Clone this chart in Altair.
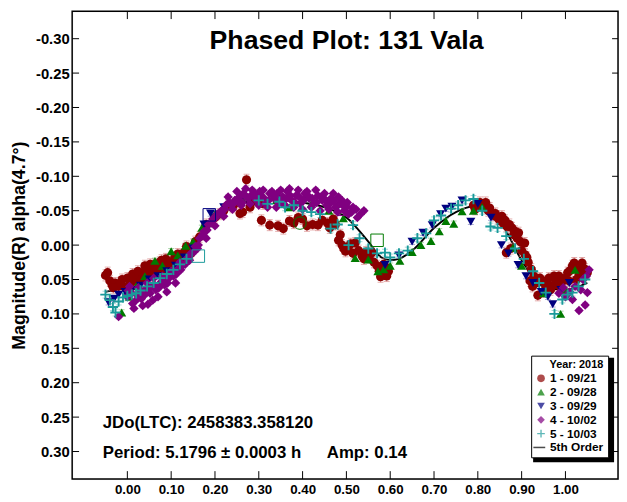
import altair as alt
import pandas as pd

# ---------------- data ----------------
sessions = ["1 - 09/21", "2 - 09/28", "3 - 09/29", "4 - 10/02", "5 - 10/03"]
colors = ["#8b0000", "#007a00", "#00007f", "#800080", "#1a9a9a"]
err_colors = ["#d88a8a", "#80c080", "#8080c0", "#c080c0", "#80c8c8"]
err_size = [0.008, 0.004, 0.004, 0.003, 0.005]

s1_phase = [-0.050, -0.040, -0.035, -0.028, -0.020, -0.012, -0.005, 0.000, 0.008, 0.012, 0.020, 0.028, 0.035,
            0.040, 0.048, 0.055, 0.062, 0.070, 0.078, 0.085, 0.092, 0.100, 0.108, 0.115, 0.122, 0.130, 0.140,
            0.200, 0.220, 0.240, 0.257, 0.263, 0.272, 0.280, 0.306, 0.325, 0.344, 0.356, 0.370, 0.390, 0.423,
            0.435, 0.457, 0.470, 0.482, 0.490, 0.498, 0.510, 0.520, 0.536, 0.545, 0.558, 0.570, 0.575, 0.581,
            0.588, 0.592, 0.596, 0.790, 0.797, 0.805, 0.813, 0.824, 0.830, 0.836, 0.845, 0.852, 0.858, 0.865,
            0.869, 0.878, 0.885, 0.890, 0.897, 0.907, 0.865, 0.875, 0.908, 0.915, 0.919, 0.928, 0.933, 0.937,
            0.948, 0.955, 0.962, 0.971, 0.978, 0.985, 0.995, 1.005, 1.011, 1.020, 1.031, 1.038, 1.045,
            -0.045, -0.032, -0.015, 0.004, 0.016, 0.024, 0.032, 0.044, 0.052, 0.058, 0.066, 0.074, 0.082,
            0.088, 0.096, 0.104, 0.112, 0.120, 0.128, 0.135, 0.145, 0.155, 0.165,
            0.180, 0.210, 0.230, 0.250, 0.290, 0.310,
            0.380, 0.400, 0.410, 0.445, 0.462, 0.475, 0.486, 0.494, 0.505, 0.515, 0.528, 0.540, 0.552,
            0.563, 0.578, 0.585, 0.590,
            0.794, 0.802, 0.818, 0.827, 0.840, 0.848, 0.855, 0.862, 0.872, 0.882, 0.893, 0.900, 0.912,
            0.922, 0.925, 0.942, 0.950, 0.958, 0.966, 0.974, 0.982, 0.990, 1.000, 1.008, 1.016, 1.025,
            1.034, 1.042, 1.050]
s1_mag = [0.044, 0.052, 0.058, 0.055, 0.060, 0.050, 0.062, 0.048, 0.055, 0.042, 0.050, 0.045, 0.040,
          0.030, 0.042, 0.035, 0.028, 0.036, 0.022, 0.030, 0.025, 0.030, 0.018, 0.013, 0.022, 0.010, 0.005,
          -0.040, -0.050, -0.055, -0.046, -0.048, -0.095, -0.055, -0.036, -0.029, -0.028, -0.024, -0.035, -0.040, -0.030,
          -0.029, -0.032, -0.038, -0.007, 0.000, 0.009, -0.002, -0.003, 0.016, 0.010, 0.011, 0.030, 0.038, 0.040,
          0.035, 0.045, 0.038, -0.058, -0.059, -0.062, -0.056, -0.050, -0.048, -0.043, -0.040, -0.035, -0.032, -0.028,
          -0.027, -0.025, -0.020, -0.010, -0.005, -0.003, 0.011, 0.005, 0.014, 0.025, 0.052, 0.045, 0.055, 0.073,
          0.052, 0.060, 0.048, 0.059, 0.050, 0.045, 0.052, 0.040, 0.037, 0.026, 0.043, 0.026, 0.035,
          0.040, 0.062, 0.055, 0.058, 0.046, 0.038, 0.050, 0.036, 0.028, 0.045, 0.032, 0.025, 0.040,
          0.020, 0.034, 0.024, 0.028, 0.015, 0.018, 0.002, 0.012, -0.005, -0.012,
          -0.030, -0.045, -0.058, -0.062, -0.065, -0.060,
          -0.032, -0.038, -0.028, -0.036, -0.025, -0.030, -0.015, 0.005, 0.002, 0.012, 0.008, 0.020, 0.018,
          0.025, 0.046, 0.028, 0.032,
          -0.052, -0.057, -0.062, -0.054, -0.046, -0.038, -0.042, -0.036, -0.030, -0.015, -0.018, 0.008, 0.018,
          0.035, 0.060, 0.048, 0.068, 0.055, 0.065, 0.045, 0.058, 0.062, 0.048, 0.052, 0.030, 0.050,
          0.034, 0.045, 0.040]

s2_phase = [-0.013, 0.005, 0.020, 0.040, 0.063, 0.080, 0.100, 0.115, 0.133, 0.150, 0.170, 0.200, 0.230, 0.260,
            0.288, 0.310, 0.340, 0.370, 0.420, 0.460, 0.493, 0.520, 0.550, 0.572, 0.585, 0.600, 0.622, 0.650,
            0.670, 0.693, 0.712, 0.727, 0.745, 0.764, 0.790, 0.810, 0.880, 0.900, 0.950, 0.989, 1.000, 1.022]
s2_mag = [0.098, 0.075, 0.060, 0.045, 0.023, 0.030, 0.009, 0.015, 0.001, -0.005, -0.025, -0.045, -0.062, -0.070,
          -0.077, -0.070, -0.065, -0.055, -0.060, -0.050, -0.039, 0.019, 0.021, 0.038, 0.035, 0.030, 0.023, 0.010,
          0.000, -0.006, -0.020, -0.035, -0.031, -0.049, -0.050, -0.055, 0.004, 0.030, 0.070, 0.100, 0.065, 0.036]

s3_phase = [-0.043, -0.030, -0.020, -0.005, 0.010, 0.030, 0.050, 0.070, 0.090, 0.110, 0.130, 0.150, 0.175,
            0.190, 0.220, 0.260, 0.300, 0.350, 0.400, 0.442, 0.480, 0.588, 0.620, 0.650, 0.675, 0.696, 0.715,
            0.727, 0.741, 0.764, 0.784, 0.800, 0.830, 0.854, 0.870, 0.892, 0.910, 0.926, 0.945, 0.960, 0.971,
            0.990, 1.009]
s3_mag = [0.083, 0.078, 0.072, 0.068, 0.065, 0.059, 0.050, 0.045, 0.038, 0.030, 0.018, 0.005, -0.030,
          -0.046, -0.055, -0.068, -0.070, -0.068, -0.065, -0.070, -0.055, 0.029, 0.015, -0.005, -0.018, -0.029, -0.045,
          -0.053, -0.056, -0.065, -0.034, -0.060, -0.040, 0.000, 0.012, 0.029, 0.045, 0.055, 0.068, 0.075, 0.086,
          0.065, 0.055]

s4_phase = [-0.020, 0.000, 0.010, 0.020, 0.030, 0.040, 0.047, 0.055, 0.065, 0.075, 0.085, 0.095, 0.105, 0.115,
            0.125, 0.135, 0.145, 0.155, 0.165, 0.175, 0.185, 0.195, 0.205, 0.215, 0.225, 0.235, 0.245,
            0.255, 0.265, 0.275, 0.285, 0.295, 0.305, 0.315, 0.325, 0.335, 0.345, 0.355, 0.365, 0.375,
            0.385, 0.395, 0.405, 0.415, 0.425, 0.435, 0.445, 0.455, 0.465, 0.475, 0.485, 0.495, 0.505,
            0.515, 0.525,
            0.005, 0.025, 0.045, 0.060, 0.080, 0.100, 0.120, 0.140, 0.160, 0.180, 0.200, 0.220, 0.240,
            0.260, 0.280, 0.300, 0.320, 0.340, 0.360, 0.380, 0.400, 0.420, 0.440, 0.460, 0.480, 0.500,
            0.230, 0.250, 0.270, 0.290, 0.310, 0.330, 0.350, 0.370, 0.390, 0.410, 0.430, 0.450, 0.470, 0.490,
            0.985, 0.995, 1.000, 1.010, 1.016, 1.022, 1.031, 1.035, 1.040, 1.045, 1.048, 1.050, 1.054,
            0.002, 0.012, 0.022, 0.032, 0.042, 0.052, 0.062, 0.072, 0.082, 0.092, 0.102, 0.112, 0.122,
            0.132, 0.142, 0.152, 0.162, 0.172, 0.182, 0.192, 0.202, 0.212, 0.222, 0.232, 0.242, 0.252,
            0.262, 0.272, 0.282, 0.292, 0.302, 0.312, 0.322, 0.332, 0.342, 0.352, 0.362, 0.372, 0.382,
            0.392, 0.402, 0.412, 0.422, 0.432, 0.442, 0.452, 0.462, 0.472, 0.482, 0.492, 0.502, 0.512,
            0.522, 0.532, 0.540,
            0.015, 0.035, 0.058, 0.070, 0.090, 0.110]
s4_mag = [0.104, 0.075, 0.070, 0.080, 0.068, 0.072, 0.086, 0.060, 0.065, 0.055, 0.058, 0.048, 0.045, 0.035,
          0.030, 0.020, 0.012, 0.002, -0.010, -0.020, -0.030, -0.038, -0.045, -0.050, -0.058, -0.060, -0.065,
          -0.070, -0.075, -0.068, -0.080, -0.065, -0.072, -0.060, -0.075, -0.068, -0.062, -0.070, -0.078, -0.065,
          -0.072, -0.060, -0.075, -0.068, -0.060, -0.072, -0.065, -0.058, -0.068, -0.055, -0.060, -0.050, -0.045,
          -0.055, -0.040,
          0.060, 0.062, 0.055, 0.048, 0.045, 0.038, 0.025, 0.018, 0.005, -0.010, -0.028, -0.042, -0.052,
          -0.058, -0.060, -0.058, -0.055, -0.055, -0.058, -0.055, -0.052, -0.055, -0.050, -0.052, -0.048, -0.055,
          -0.070, -0.078, -0.082, -0.075, -0.080, -0.078, -0.080, -0.082, -0.080, -0.078, -0.080, -0.075, -0.075, -0.065,
          0.070, 0.062, 0.075, 0.068, 0.079, 0.060, 0.095, 0.065, 0.050, 0.087, 0.045, 0.069, 0.036,
          0.066, 0.085, 0.072, 0.078, 0.064, 0.070, 0.058, 0.062, 0.052, 0.055, 0.040, 0.042, 0.036,
          0.028, 0.022, 0.010, 0.000, -0.015, -0.022, -0.032, -0.040, -0.048, -0.052, -0.062, -0.060, -0.065,
          -0.062, -0.070, -0.072, -0.068, -0.078, -0.068, -0.065, -0.072, -0.075, -0.062, -0.068, -0.072, -0.062,
          -0.070, -0.065, -0.072, -0.068, -0.062, -0.070, -0.066, -0.060, -0.064, -0.070, -0.058, -0.062, -0.048,
          -0.052, -0.045, -0.050,
          0.092, 0.088, 0.080, 0.075, 0.068, 0.055]

s5_phase = [-0.050, -0.040, -0.033, -0.027, -0.020, -0.010, 0.000, 0.010, 0.020, 0.030, 0.045, 0.060, 0.075,
            0.090, 0.105, 0.120, 0.135, 0.300, 0.320, 0.347, 0.360, 0.380, 0.400, 0.420, 0.440, 0.464, 0.480,
            0.505, 0.515, 0.530, 0.550, 0.570, 0.588, 0.600, 0.620, 0.640, 0.662, 0.682, 0.700, 0.716, 0.739,
            0.755, 0.772, 0.790, 0.810, 0.829, 0.845, 0.865, 0.885, 0.905, 0.926, 0.940, 0.955, 0.975, 0.993,
            1.005, 1.016, 1.030, 1.045]
s5_mag = [0.072, 0.080, 0.090, 0.098, 0.082, 0.076, 0.074, 0.072, 0.070, 0.066, 0.060, 0.055, 0.048,
          0.042, 0.036, 0.028, 0.020, -0.065, -0.060, -0.063, -0.055, -0.058, -0.050, -0.048, -0.045, -0.024, -0.030,
          0.000, -0.029, -0.010, 0.005, 0.012, 0.011, 0.018, 0.012, 0.008, -0.010, -0.017, -0.036, -0.043, -0.053,
          -0.058, -0.065, -0.067, -0.050, -0.027, -0.025, -0.013, 0.005, 0.020, 0.038, 0.055, 0.069, 0.100, 0.079,
          0.072, 0.069, 0.060, 0.050]

# highlighted (open) points
open_phase = [0.187, 0.493, 0.394, 0.162, 0.570]
open_mag = [-0.044, -0.052, -0.032, 0.016, -0.007]
open_session = [2, 3, 1, 4, 1]
open_shape = ["square", "square", "circle", "square", "square"]

# 5th order fit
fit_phase = [-0.05, 0.00, 0.05, 0.10, 0.15, 0.20, 0.25, 0.30, 0.35, 0.40, 0.45, 0.50, 0.55, 0.58, 0.60,
             0.62, 0.65, 0.70, 0.75, 0.79, 0.82, 0.86, 0.90, 0.95, 1.00, 1.05]
fit_mag = [0.068, 0.060, 0.048, 0.030, 0.002, -0.035, -0.058, -0.065, -0.065, -0.062, -0.055, -0.040, -0.005,
           0.018, 0.022, 0.020, 0.008, -0.025, -0.048, -0.056, -0.052, -0.025, 0.022, 0.060, 0.065, 0.055]

x_ticks = [0.0, 0.1, 0.2, 0.3, 0.4, 0.5, 0.6, 0.7, 0.8, 0.9, 1.0]
y_ticks = [-0.30, -0.25, -0.20, -0.15, -0.10, -0.05, 0.0, 0.05, 0.10, 0.15, 0.20, 0.25, 0.30]

# ---------------- build tables ----------------
phases = [s1_phase, s2_phase, s3_phase, s4_phase, s5_phase]
mags = [s1_mag, s2_mag, s3_mag, s4_mag, s5_mag]
PLUS = "M-1,-0.18H1V0.18H-1Z M-0.18,-1H0.18V1H-0.18Z"
LINE = "M-2,-0.2H1.1V0.2H-2Z"
shapes = ["circle", "triangle-up", "triangle-down", "diamond", PLUS]
sizes = [85, 85, 85, 90, 110]

rows = []
for i, (ph, mg) in enumerate(zip(phases, mags)):
    for p, m in zip(ph, mg):
        rows.append({"phase": p, "mag": m, "session": sessions[i], "ord": i,
                     "lo": m - err_size[i], "hi": m + err_size[i],
                     "ecol": err_colors[i], "size": sizes[i]})
pts = pd.DataFrame(rows)
fit = pd.DataFrame({"phase": fit_phase, "mag": fit_mag})
opn = pd.DataFrame({"phase": open_phase, "mag": open_mag,
                    "col": [colors[k] for k in open_session], "shp": open_shape})
xt = pd.DataFrame({"v": x_ticks})
yt = pd.DataFrame({"v": y_ticks})

W, H = 553, 474
FONT = "Liberation Sans"
xs = alt.Scale(domain=[-0.126, 1.12], nice=False, zero=False)
ys = alt.Scale(domain=[-0.34, 0.34], reverse=True, nice=False, zero=False)

legend_domain = sessions + ["5th Order"]
cscale = alt.Scale(domain=legend_domain, range=colors + ["#000000"])
sscale = alt.Scale(domain=legend_domain, range=shapes + [LINE])
LX, LY = 465, 349
leg = alt.Legend(title="Year: 2018", orient="none", legendX=LX, legendY=LY,
                 strokeColor="black", fillColor="white", padding=4, cornerRadius=0,
                 titleFont=FONT, titleFontSize=11, titleFontWeight="bold", titleAnchor="end",
                 titlePadding=2, labelFont=FONT, labelFontSize=12, labelFontWeight="bold",
                 labelColor="black", titleColor="black", symbolSize=60, rowPadding=2,
                 labelOffset=3, symbolStrokeWidth=0, symbolOpacity=1)

xaxis = alt.Axis(values=x_ticks, format=".2f", ticks=False, domain=False, grid=False,
                 labelFont=FONT, labelFontSize=13.5, labelFontWeight="bold", labelColor="black",
                 labelPadding=4, title=None)
yaxis = alt.Axis(values=y_ticks, ticks=False, domain=False, grid=False,
                 labelExpr="replace(format(datum.value, '.2f'), '\u2212', '-')",
                 labelFont=FONT, labelFontSize=15, labelFontWeight="bold", labelColor="black",
                 labelPadding=3, title="Magnitude(R) alpha(4.7°)", titleFont=FONT,
                 titleFontSize=18, titleFontWeight="bold", titleColor="black",
                 titleX=-53, titleY=H / 2, titleAngle=270, titleAlign="center",
                 titleBaseline="middle")


def X(f):
    return alt.X(f, scale=xs, axis=xaxis)


def Y(f):
    return alt.Y(f, scale=ys, axis=yaxis)


base = alt.Chart(pts)

fit_line = alt.Chart(fit).mark_line(color="black", strokeWidth=2, interpolate="monotone").encode(
    x=X("phase:Q"), y=Y("mag:Q"))
err = base.mark_rule(strokeWidth=1).encode(
    x=X("phase:Q"), y=Y("lo:Q"), y2="hi:Q", color=alt.Color("ecol:N", scale=None))
cap_lo = base.mark_tick(orient="horizontal", size=6, thickness=1).encode(
    x=X("phase:Q"), y=Y("lo:Q"), color=alt.Color("ecol:N", scale=None))
cap_hi = base.mark_tick(orient="horizontal", size=6, thickness=1).encode(
    x=X("phase:Q"), y=Y("hi:Q"), color=alt.Color("ecol:N", scale=None))
points = base.mark_point(filled=True, opacity=1, strokeWidth=0).encode(
    x=X("phase:Q"), y=Y("mag:Q"),
    color=alt.Color("session:N", scale=cscale, legend=leg),
    shape=alt.Shape("session:N", scale=sscale, legend=leg),
    size=alt.Size("size:Q", scale=None),
    order=alt.Order("ord:Q"),
)
open_pts = alt.Chart(opn).mark_point(filled=False, strokeWidth=1, size=160, opacity=1).encode(
    x=X("phase:Q"), y=Y("mag:Q"),
    color=alt.Color("col:N", scale=None),
    shape=alt.Shape("shp:N", scale=None),
)

xt_top = alt.Chart(xt).mark_rule(color="black", strokeWidth=1).encode(
    x=X("v:Q"), y=alt.value(0), y2=alt.value(8))
xt_bot = alt.Chart(xt).mark_rule(color="black", strokeWidth=1).encode(
    x=X("v:Q"), y=alt.value(H), y2=alt.value(H - 8))
yt_left = alt.Chart(yt).mark_rule(color="black", strokeWidth=1).encode(
    y=Y("v:Q"), x=alt.value(0), x2=alt.value(7))
yt_right = alt.Chart(yt).mark_rule(color="black", strokeWidth=1).encode(
    y=Y("v:Q"), x=alt.value(W), x2=alt.value(W - 6))

one = pd.DataFrame({"a": [0]})
frame = alt.Chart(one).mark_rect(filled=False, stroke="black", strokeWidth=1.5).encode(
    x=alt.value(0), x2=alt.value(W), y=alt.value(0), y2=alt.value(H))
shadow = alt.Chart(one).mark_rect(color="black").encode(
    x=alt.value(LX + 2), x2=alt.value(LX + 84), y=alt.value(LY + 2), y2=alt.value(LY + 108))

title = alt.Chart(pd.DataFrame({"t": ["Phased Plot: 131 Vala"]})).mark_text(
    font=FONT, fontSize=27, fontWeight="bold", color="black", align="center", baseline="middle"
).encode(text="t:N", x=alt.value(278), y=alt.value(30))
jd = alt.Chart(pd.DataFrame({"t": ["JDo(LTC): 2458383.358120"]})).mark_text(
    font=FONT, fontSize=17, fontWeight="bold", color="black", align="left", baseline="middle"
).encode(text="t:N", x=alt.value(31), y=alt.value(417))
per = alt.Chart(pd.DataFrame({"t": ["Period: 5.1796 ± 0.0003 h"]})).mark_text(
    font=FONT, fontSize=17, fontWeight="bold", color="black", align="left", baseline="middle"
).encode(text="t:N", x=alt.value(31), y=alt.value(448))
amp = alt.Chart(pd.DataFrame({"t": ["Amp: 0.14"]})).mark_text(
    font=FONT, fontSize=17, fontWeight="bold", color="black", align="left", baseline="middle"
).encode(text="t:N", x=alt.value(258), y=alt.value(448))

chart = alt.layer(
    fit_line, err, cap_lo, cap_hi, points, open_pts,
    xt_top, xt_bot, yt_left, yt_right, frame, shadow, title, jd, per, amp
).properties(
    width=W, height=H,
    autosize=alt.AutoSizeParams(type="none"),
    padding={"left": 65, "top": 0, "right": 1, "bottom": 16},
).configure_view(stroke="black", strokeWidth=1.5).configure(background="white")

chart.save("out.html", embed_options={"renderer": "svg", "actions": False})
